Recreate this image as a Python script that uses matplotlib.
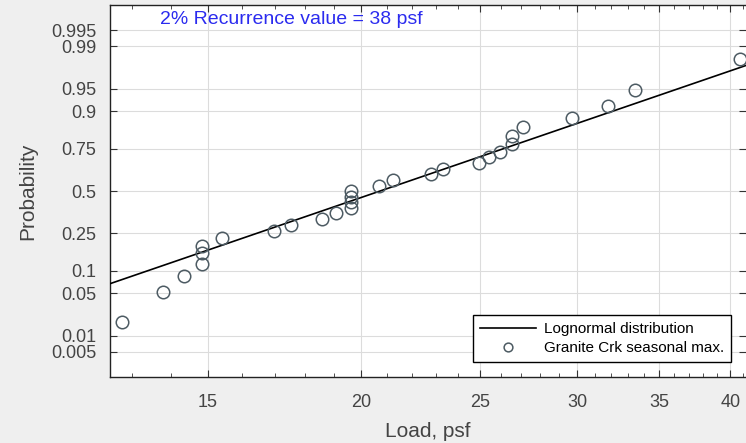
import numpy as np
import matplotlib
matplotlib.use('Agg')
import matplotlib.pyplot as plt
from matplotlib.ticker import FixedLocator, NullFormatter
from statistics import NormalDist

plt.rcParams['font.family'] = ['Liberation Sans', 'DejaVu Sans']

# seasonal maximum snow loads (psf) and their plotting probabilities
loads = [12.76, 13.79, 14.33, 14.84, 14.84, 14.84, 15.39, 16.98, 17.52, 18.57,
         19.08, 19.61, 19.61, 19.61, 19.61, 20.69, 21.23, 22.80, 23.34, 24.95,
         25.45, 25.96, 26.54, 26.54, 27.09, 29.71, 31.82, 33.42, 40.76]
probs = [0.0176, 0.0525, 0.0852, 0.120, 0.159, 0.189, 0.2246, 0.261, 0.293, 0.325,
         0.3605, 0.391, 0.428, 0.464, 0.502, 0.534, 0.570, 0.605, 0.636, 0.675,
         0.705, 0.735, 0.777, 0.811, 0.846, 0.880, 0.913, 0.948, 0.9827]

# fitted lognormal (log-space mean and std)
ln_mu = 3.0314
ln_sigma = 0.341

x_ticks = [15, 20, 25, 30, 35, 40]
y_ticks = [0.005, 0.01, 0.05, 0.1, 0.25, 0.5, 0.75, 0.9, 0.95, 0.99, 0.995]
y_labels = ['0.005', '0.01', '0.05', '0.1', '0.25', '0.5', '0.75', '0.9', '0.95', '0.99', '0.995']

nd = NormalDist()
_ppf = np.vectorize(nd.inv_cdf, otypes=[float])
_cdf = np.vectorize(nd.cdf, otypes=[float])


def fwd(p):
    p = np.clip(np.asarray(p, dtype=float), 1e-12, 1 - 1e-12)
    return _ppf(p)


def inv(z):
    return _cdf(np.asarray(z, dtype=float))


fig = plt.figure(figsize=(7.46, 4.43), dpi=100, facecolor='#efefef')
ax = fig.add_axes([110 / 746, 1 - 377 / 443, 636 / 746, 372 / 443])
ax.set_facecolor('white')

ax.set_xscale('log')
ax.set_yscale('function', functions=(fwd, inv))
ax.set_xlim(12.48, 41.2)
ax.set_ylim(nd.cdf(-2.985), nd.cdf(2.985))

# distribution line
xl = np.geomspace(12.3, 42, 50)
yl = _cdf((np.log(xl) - ln_mu) / ln_sigma)
ax.plot(xl, yl, color='black', lw=1.2, label='Lognormal distribution', zorder=3)

ax.plot(loads, probs, 'o', ms=9, mfc='none', mec='#4d5b63', mew=1.1,
        label='Granite Crk seasonal max.', zorder=4)

# axes / ticks
ax.xaxis.set_major_locator(FixedLocator(x_ticks))
ax.set_xticklabels([str(t) for t in x_ticks])
ax.xaxis.set_minor_locator(FixedLocator([v for v in range(12, 42) if v not in x_ticks]))
ax.xaxis.set_minor_formatter(NullFormatter())
ax.set_yticks(y_ticks)
ax.set_yticklabels(y_labels)
ax.yaxis.set_minor_locator(FixedLocator([]))

ax.tick_params(which='both', direction='in', top=True, right=True,
               color='#333333', labelcolor='#444444', labelsize=13)
ax.tick_params(axis='x', which='major', length=5, pad=12)
ax.tick_params(axis='x', which='minor', length=3)
ax.tick_params(axis='y', which='major', length=5, pad=10)

ax.grid(True, which='major', color='#dcdcdc', lw=0.8)
ax.set_axisbelow(True)
for s in ['left', 'top', 'bottom']:
    ax.spines[s].set_color('#222222')
    ax.spines[s].set_linewidth(1.0)
ax.spines['right'].set_visible(False)

ax.set_xlabel('Load, psf', fontsize=15, color='#444444', labelpad=8)
ax.set_ylabel('Probability', fontsize=15, color='#444444', labelpad=10)

ax.text(0.0786, 0.96, '2% Recurrence value = 38 psf', transform=ax.transAxes,
        color='#2b2bef', fontsize=14, va='center', ha='left')

leg = ax.legend(loc='lower right', bbox_to_anchor=(0.976, 0.040), borderaxespad=0,
                fontsize=11, frameon=True, fancybox=False, framealpha=1,
                edgecolor='black', handlelength=3.7, handletextpad=0.5,
                borderpad=0.45, labelspacing=0.35, markerscale=0.7)
leg.get_frame().set_linewidth(1.0)

fig.savefig('out.png', dpi=100, facecolor=fig.get_facecolor())
